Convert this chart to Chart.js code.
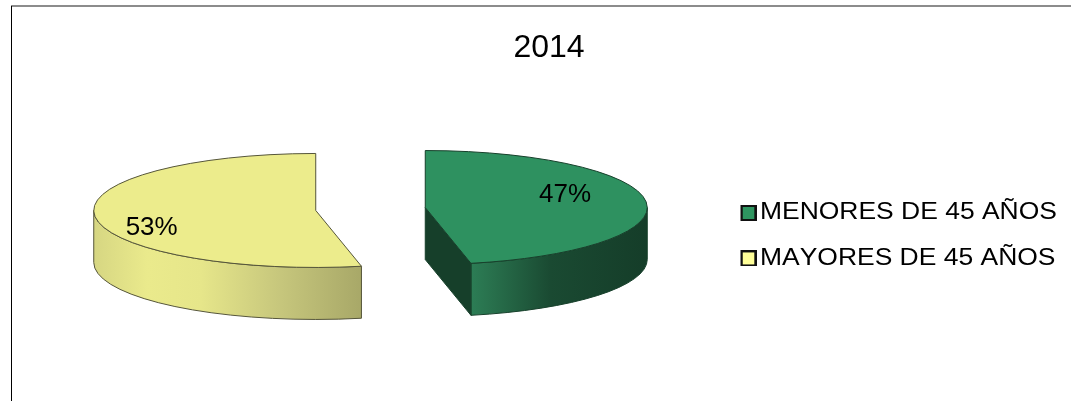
<!DOCTYPE html>
<html lang="es">
<head>
<meta charset="utf-8">
<title>2014</title>
<style>
html,body{margin:0;padding:0;background:#fff;overflow:hidden}
canvas{display:block}
</style>
<script src="https://cdn.jsdelivr.net/npm/chart.js@4"></script>
</head>
<body>
<canvas id="c" width="1071" height="401"></canvas>
<script>
const chartTitle = '2014';
const categories = ['MENORES DE 45 AÑOS', 'MAYORES DE 45 AÑOS'];
const seriesValues = [46.7, 53.3];
const faceColors = ['#2E9160', '#ECEC8C'];
const swatchColors = ['#2E9560', '#FFFF99'];
const edgeColors = ['#17402B', '#55553A'];
const FONT = '"Liberation Sans", Arial, sans-serif';

// Projection of the pie (styling only)
const VIEW = {cx: 370.5, cy: 209, rx: 222, ry: 57, depth: 52, explode: 0.248};
const labelAnchors = [{fx: 0.63, fy: -0.225}, {fx: -0.739, fy: 0.298}];
const wallStops = [
  [[0, '#2C7D55'], [0.12, '#28704C'], [0.45, '#1A4A32'], [1, '#153D29']],
  [[0, '#D6D682'], [0.2, '#EAEA8C'], [0.4, '#E6E68A'], [0.7, '#C6C67C'], [1, '#A8A868']]
];
const cutWallColor = '#163F2A';

function makeSwatch(color) {
  const s = document.createElement('canvas');
  s.width = 18; s.height = 16;
  const g = s.getContext('2d');
  g.fillStyle = '#111';
  g.fillRect(4, 0, 14, 16);
  g.fillStyle = color;
  g.fillRect(6, 2, 10, 12);
  return s;
}

const pie3d = {
  id: 'pie3d',
  beforeDraw(chart) {
    const ctx = chart.ctx;
    // frame
    ctx.save();
    ctx.fillStyle = '#8C8C8C';
    ctx.fillRect(11, 5, 1060, 2);
    ctx.fillStyle = '#000';
    ctx.fillRect(11, 6, 1, 395);
    ctx.restore();

    if (!chart.$wrapped) {
      chart.$wrapped = true;
      const legend = chart.legend, title = chart.titleBlock;
      const lDraw = legend.draw, tDraw = title.draw;
      legend.draw = function () {
        const hb = this.legendHitBoxes[0];
        const sx = 1.15, fs = 23;
        ctx.save();
        ctx.fontKerning = 'none';
        ctx.translate(760, 213);
        ctx.scale(sx, 1);
        ctx.translate(-(hb.left + 1 + fs / 2), -(hb.top + fs / 2));
        lDraw.apply(this, arguments);
        ctx.restore();
      };
      title.draw = function () {
        ctx.save();
        ctx.translate(13.5, 0);
        tDraw.apply(this, arguments);
        ctx.restore();
      };
    }
  },
  beforeDatasetsDraw(chart) {
    const ctx = chart.ctx;
    const meta = chart.getDatasetMeta(0);
    const {cx, cy, rx, ry, depth, explode} = VIEW;
    const slices = meta.data.map((arc, i) => {
      const p = arc.getProps(['startAngle', 'endAngle', 'outerRadius', 'x', 'y'], true);
      const mid = (p.startAngle + p.endAngle) / 2;
      return {
        arc, i, a0: p.startAngle, a1: p.endAngle, R: p.outerRadius, ax: p.x, ay: p.y,
        x: cx + Math.cos(mid) * explode * rx,
        y: cy + Math.sin(mid) * explode * ry
      };
    });
    slices.forEach(s => {
      // curved outer wall (only the front half of the ellipse shows)
      const from = Math.max(s.a0, 0), to = Math.min(s.a1, Math.PI);
      if (to > from) {
        const xa = s.x + rx * Math.cos(from), xb = s.x + rx * Math.cos(to);
        const g = ctx.createLinearGradient(Math.min(xa, xb), 0, Math.max(xa, xb), 0);
        const stops = wallStops[s.i];
        stops.forEach(st => g.addColorStop(st[0], st[1]));
        ctx.beginPath();
        ctx.ellipse(s.x, s.y, rx, ry, 0, from, to);
        ctx.lineTo(s.x + rx * Math.cos(to), s.y + ry * Math.sin(to) + depth);
        ctx.ellipse(s.x, s.y + depth, rx, ry, 0, to, from, true);
        ctx.closePath();
        ctx.fillStyle = g;
        ctx.fill();
        ctx.strokeStyle = edgeColors[s.i];
        ctx.lineWidth = 1;
        ctx.stroke();
      }
      // flat cut wall
      [[s.a1, Math.cos(s.a1)], [s.a0, -Math.cos(s.a0)]].forEach(([ang, facing]) => {
        if (facing > 1e-6) {
          const ex = s.x + rx * Math.cos(ang), ey = s.y + ry * Math.sin(ang);
          ctx.beginPath();
          ctx.moveTo(s.x, s.y);
          ctx.lineTo(ex, ey);
          ctx.lineTo(ex, ey + depth);
          ctx.lineTo(s.x, s.y + depth);
          ctx.closePath();
          ctx.fillStyle = cutWallColor;
          ctx.fill();
          ctx.strokeStyle = edgeColors[s.i];
          ctx.lineWidth = 1;
          ctx.stroke();
        }
      });
      // top face: the library's own arc under the projection
      ctx.save();
      ctx.translate(s.x, s.y);
      ctx.scale(rx / s.R, ry / s.R);
      ctx.translate(-s.ax, -s.ay);
      s.arc.draw(ctx);
      ctx.restore();
      ctx.beginPath();
      ctx.moveTo(s.x, s.y);
      ctx.ellipse(s.x, s.y, rx, ry, 0, s.a0, s.a1);
      ctx.closePath();
      ctx.strokeStyle = edgeColors[s.i];
      ctx.lineWidth = 1;
      ctx.stroke();
    });
    // value labels
    ctx.save();
    ctx.font = '26px ' + FONT;
    ctx.fillStyle = '#000';
    ctx.textAlign = 'center';
    ctx.textBaseline = 'middle';
    slices.forEach(s => {
      const a = labelAnchors[s.i];
      ctx.fillText(Math.round(seriesValues[s.i]) + '%', s.x + a.fx * rx, s.y + a.fy * ry);
    });
    ctx.restore();
    return false;
  }
};

new Chart(document.getElementById('c'), {
  type: 'pie',
  data: {
    labels: categories,
    datasets: [{data: seriesValues, backgroundColor: faceColors, borderWidth: 0}]
  },
  options: {
    responsive: false,
    devicePixelRatio: 1,
    animation: false,
    rotation: 0,
    layout: {padding: 0},
    plugins: {
      tooltip: {enabled: false},
      title: {
        display: true,
        text: chartTitle,
        color: '#000',
        font: {family: FONT, size: 32, weight: 'normal'},
        padding: {top: 29, bottom: 8}
      },
      legend: {
        position: 'right',
        labels: {
          color: '#000',
          font: {family: FONT, size: 23},
          boxWidth: 1,
          boxHeight: 16,
          padding: 22.4,
          usePointStyle: true,
          generateLabels(chart) {
            return categories.map((text, i) => ({
              text, index: i, hidden: false,
              pointStyle: makeSwatch(swatchColors[i]),
              fontColor: '#000', lineWidth: 0
            }));
          }
        }
      }
    }
  },
  plugins: [pie3d]
});
</script>
</body>
</html>
